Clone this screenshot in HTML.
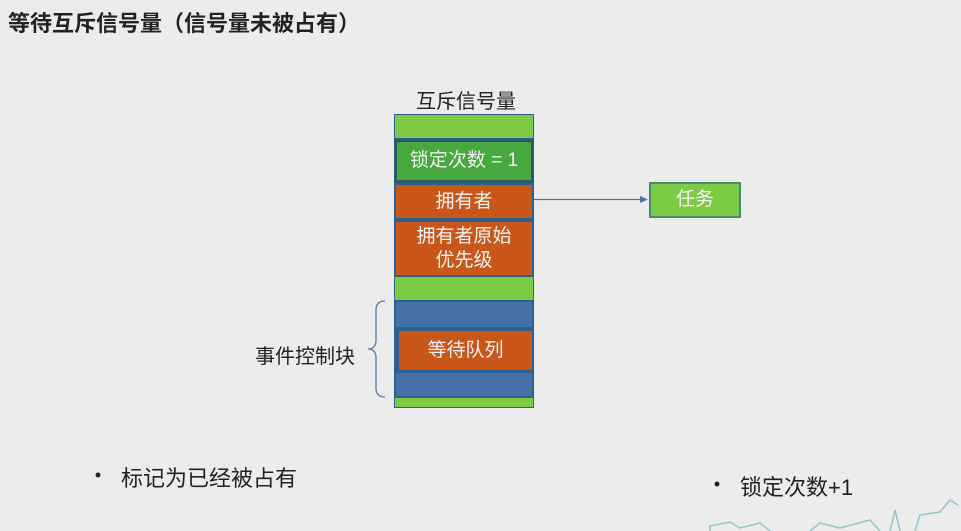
<!DOCTYPE html>
<html><head><meta charset="utf-8"><style>
body{margin:0;width:961px;height:531px;background:#ececec;position:relative;overflow:hidden;font-family:"Liberation Sans","Noto Sans CJK SC",sans-serif;}
.a{position:absolute;box-sizing:border-box;}
.t{display:flex;align-items:center;justify-content:center;text-align:center;color:#f3f3f3;font-size:19px;line-height:24px;}
.g{background:#7dcb45;}
.o{background:#c9571a;border:2px solid #2f5f8f;}
.b{background:#4671a8;border:2px solid #2f5f8f;}
</style></head><body>
<div class="a" style="left:8px;top:6px;font-size:22px;font-weight:bold;color:#222;">等待互斥信号量（信号量未被占有）</div>
<div class="a" style="left:416px;top:85px;font-size:20px;color:#222;">互斥信号量</div>
<div class="a" style="left:394px;top:114px;width:140px;height:294px;background:#2f5f8f;"></div>
<div class="a g" style="left:395px;top:115px;width:138px;height:23px;"></div>
<div class="a t" style="left:394px;top:139px;width:140px;height:44px;background:#47a83f;border:3px solid #2a5a6a;">锁定次数 = 1</div>
<div class="a t o" style="left:394px;top:183px;width:140px;height:37px;">拥有者</div>
<div class="a t o" style="left:394px;top:220px;width:140px;height:57px;">拥有者原始<br>优先级</div>
<div class="a g" style="left:395px;top:277px;width:138px;height:23px;"></div>
<div class="a b" style="left:394px;top:300px;width:140px;height:29px;"></div>
<div class="a t o" style="left:397px;top:329px;width:137px;height:43px;">等待队列</div>
<div class="a b" style="left:394px;top:371px;width:140px;height:27px;"></div>
<div class="a g" style="left:395px;top:398px;width:138px;height:9px;"></div>
<div class="a t g" style="left:649px;top:182px;width:92px;height:36px;border:2px solid #4a8a6a;">任务</div>
<svg class="a" style="left:0;top:0" width="961" height="531">
<line x1="534" y1="199.5" x2="642" y2="199.5" stroke="#4a70b0" stroke-width="1.2"/>
<polygon points="648,199.5 640,196 640,203" fill="#4a70b0"/>
<path d="M385,301 Q376,301 376,310 L376,340 Q376,349 368,349 Q376,349 376,358 L376,388 Q376,397 385,397" fill="none" stroke="#5a7aa0" stroke-width="1.3"/>
<circle cx="98" cy="475" r="2.5" fill="#222"/>
<circle cx="717" cy="484" r="2.5" fill="#222"/>
</svg>
<div class="a" style="left:255px;top:340px;font-size:20px;color:#222;">事件控制块</div>
<div class="a" style="left:121px;top:461px;font-size:22px;color:#222;">标记为已经被占有</div>
<div class="a" style="left:740px;top:470px;font-size:22px;color:#222;">锁定次数+1</div>
<svg class="a" style="left:700px;top:490px" width="261" height="41"><path d="M10,41 L10,36 L30,32 L40,38 L60,33 L70,41 M110,41 L120,33 L140,38 L170,30 L180,41 M190,41 L195,20 L200,41 M215,41 L220,25 L240,22 L250,10 L258,15" fill="none" stroke="#8cc8cc" stroke-width="1.5"/></svg>
</body></html>
